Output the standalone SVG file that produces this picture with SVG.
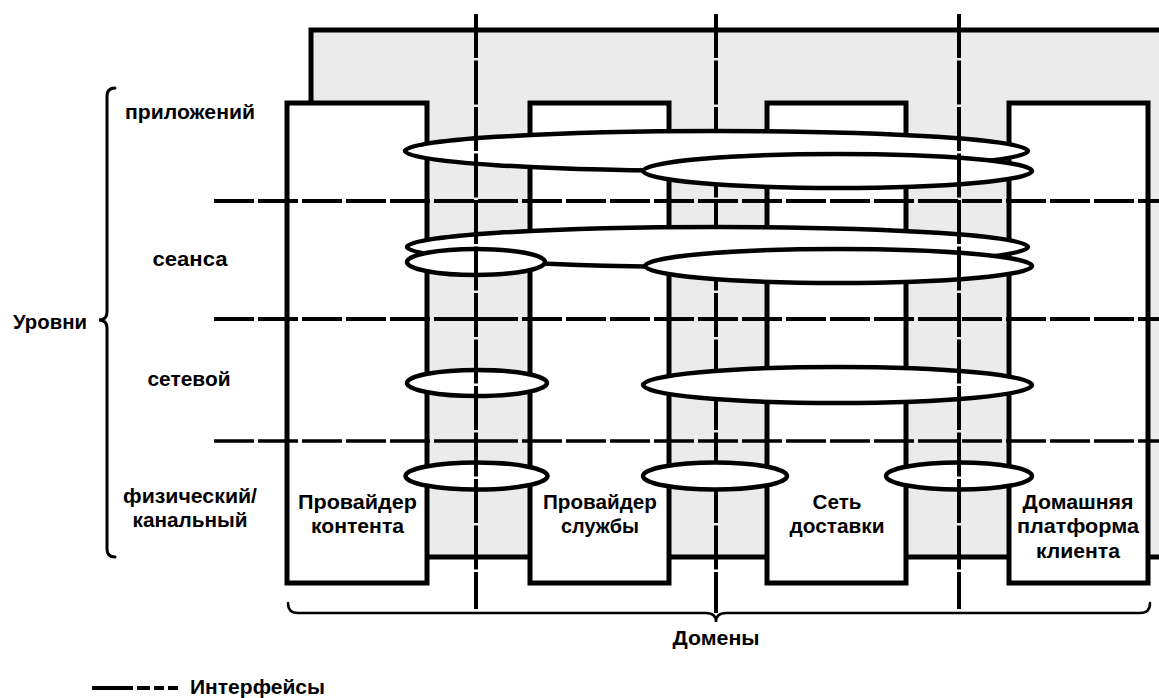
<svg xmlns="http://www.w3.org/2000/svg" width="1159" height="698" viewBox="0 0 1159 698">
<style>
.frame{fill:#ebebeb;stroke:#000;stroke-width:5}
.box{fill:#fff;stroke:#000;stroke-width:5}
.ell{fill:#fff;stroke:#000;stroke-width:4.5}
.hd{stroke:#000;stroke-width:4;stroke-dasharray:40 4;fill:none}
.vd{stroke:#000;stroke-width:4;stroke-dasharray:44 2.5;fill:none}
.br{stroke:#000;stroke-width:3;fill:none;stroke-linecap:round}
.lg{stroke:#000;stroke-width:4;fill:none}
text{font-family:"Liberation Sans",Arial,sans-serif;font-weight:bold;font-size:20px;fill:#000}
.c{text-anchor:middle}
</style>
<rect width="1159" height="698" fill="#fff"/>
<g id="frame"><rect class="frame" x="311" y="30" width="900" height="527"/></g>

<g id="domain-content-provider">
<rect class="box" x="287" y="103" width="140" height="480"/>
<text class="c" x="357.5" y="509" textLength="119" lengthAdjust="spacingAndGlyphs">Провайдер</text>
<text class="c" x="357.5" y="533" textLength="93" lengthAdjust="spacingAndGlyphs">контента</text>
</g>
<g id="domain-service-provider">
<rect class="box" x="530" y="103" width="139" height="480"/>
<text class="c" x="600" y="509" textLength="114" lengthAdjust="spacingAndGlyphs">Провайдер</text>
<text class="c" x="600" y="533" textLength="78" lengthAdjust="spacingAndGlyphs">службы</text>
</g>
<g id="domain-delivery-network">
<rect class="box" x="767" y="103" width="139" height="480"/>
<text class="c" x="837" y="509" textLength="49" lengthAdjust="spacingAndGlyphs">Сеть</text>
<text class="c" x="837" y="533" textLength="95" lengthAdjust="spacingAndGlyphs">доставки</text>
</g>
<g id="domain-home-platform">
<rect class="box" x="1009" y="103" width="139" height="480"/>
<text class="c" x="1078" y="509" textLength="111" lengthAdjust="spacingAndGlyphs">Домашняя</text>
<text class="c" x="1078" y="533" textLength="122" lengthAdjust="spacingAndGlyphs">платформа</text>
<text class="c" x="1078" y="558" textLength="84" lengthAdjust="spacingAndGlyphs">клиента</text>
</g>

<g id="layer-separators">
<line class="hd" x1="214" y1="201" x2="1159" y2="201"/>
<line class="hd" x1="214" y1="319" x2="1159" y2="319"/>
<line class="hd" x1="214" y1="441" x2="1159" y2="441" style="stroke-width:3.5"/>
</g>

<g id="connectors">
<line class="vd" x1="716" y1="14" x2="716" y2="613"/>
<g id="application-links">
<ellipse class="ell" cx="716.5" cy="151" rx="311.5" ry="20"/>
<ellipse class="ell" cx="837.5" cy="171" rx="194.5" ry="17"/>
</g>
<g id="session-links">
<ellipse class="ell" cx="717.5" cy="247" rx="310.5" ry="20"/>
<ellipse class="ell" cx="476" cy="262" rx="69" ry="13"/>
<ellipse class="ell" cx="838.5" cy="266" rx="193.5" ry="17"/>
</g>
<g id="network-links">
<ellipse class="ell" cx="477" cy="383" rx="70" ry="13"/>
<ellipse class="ell" cx="837.5" cy="385" rx="194.5" ry="18"/>
</g>
<g id="physical-links">
<ellipse class="ell" cx="476.5" cy="476" rx="71" ry="13.5"/>
<ellipse class="ell" cx="715" cy="476" rx="72" ry="13.5"/>
<ellipse class="ell" cx="959" cy="476" rx="73" ry="13.5"/>
</g>
<line class="vd" x1="476" y1="14" x2="476" y2="609"/>
<line class="vd" x1="959" y1="14" x2="959" y2="609"/>
</g>

<g id="layers-label">
<path class="br" d="M115,88 Q107,88 107,96 L107,312 Q107,320 99,320 Q107,320 107,328 L107,549 Q107,557 115,557"/>
<text x="50" y="329" class="c" textLength="74" lengthAdjust="spacingAndGlyphs">Уровни</text>
<text x="190" y="119" class="c" textLength="130" lengthAdjust="spacingAndGlyphs">приложений</text>
<text x="190" y="266" class="c" textLength="75" lengthAdjust="spacingAndGlyphs">сеанса</text>
<text x="189" y="386" class="c" textLength="83" lengthAdjust="spacingAndGlyphs">сетевой</text>
<text x="190" y="503" class="c" textLength="134" lengthAdjust="spacingAndGlyphs">физический/</text>
<text x="190" y="527" class="c" textLength="115" lengthAdjust="spacingAndGlyphs">канальный</text>
</g>

<g id="domains-label">
<path class="br" style="stroke-width:2.5" d="M288,603 Q288,613 298,613 L706,613 Q716,613 716,622 Q716,613 726,613 L1140,613 Q1150,613 1150,603"/>
<text x="716" y="645" class="c" textLength="87" lengthAdjust="spacingAndGlyphs">Домены</text>
</g>

<g id="legend">
<path class="lg" d="M92,688 H133 M137,688 H150 M154,688 H164 M168,688 H178"/>
<text x="190" y="694" textLength="135" lengthAdjust="spacingAndGlyphs">Интерфейсы</text>
</g>
</svg>
